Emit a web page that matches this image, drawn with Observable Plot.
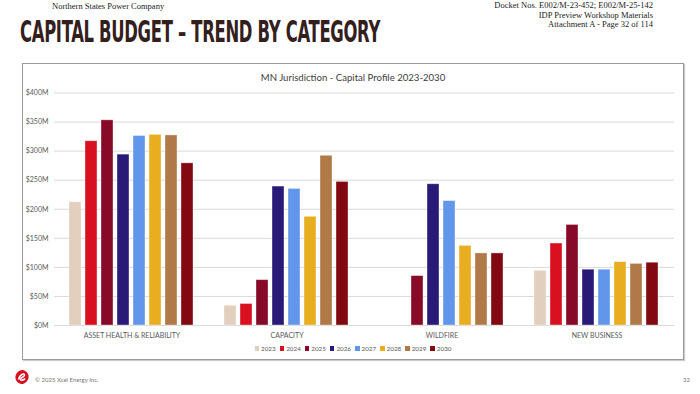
<!DOCTYPE html>
<html>
<head>
<meta charset="utf-8">
<script src="https://cdn.jsdelivr.net/npm/d3@7"></script>
<script src="https://cdn.jsdelivr.net/npm/@observablehq/plot@0.6"></script>
<style>
  html, body { margin:0; padding:0; background:#fff; }
  body { width:700px; height:394px; position:relative; overflow:hidden; font-family:Lato, "Open Sans", sans-serif; }
  .abs { position:absolute; }
  #company { left:52px; top:1px; font-family:"Liberation Serif", serif; font-size:8.5px; color:#222; }
  #docket { right:47px; top:1px; font-family:"Liberation Serif", serif; font-size:8.5px; color:#222; text-align:right; line-height:9.5px; }
  #title { left:20px; top:13px; font-family:"Liberation Sans Narrow", "DejaVu Sans Condensed", sans-serif; font-weight:bold; font-size:31px; color:#33201d; white-space:nowrap; transform-origin:0 0; letter-spacing:-0.5px; }
  #box { left:22px; top:63px; width:660px; height:295px; border:1px solid #9a9a9a; box-shadow:1px 1px 1px #ccc; }
  #ctitle { left:23px; top:72px; width:660px; text-align:center; font-family:Lato, sans-serif; font-size:9.6px; color:#404040; }
  #chart { left:23px; top:85px; }
  #legend { left:23px; top:345px; width:660px; display:flex; justify-content:center; font-size:6.3px; color:#595959; }
  #legend span.item { margin:0 2px; display:flex; align-items:center; }
  #legend span.sw { width:4.5px; height:4.5px; display:inline-block; margin-right:2px; }
  #copy { left:35px; top:376px; font-size:6px; color:#777; }
  #page { left:683px; top:376px; font-size:6px; color:#777; }
  #logo { left:14px; top:369px; }
</style>
</head>
<body>
<div id="company" class="abs">Northern States Power Company</div>
<div id="docket" class="abs">Docket Nos. E002/M-23-452; E002/M-25-142<br>IDP Preview Workshop Materials<br>Attachment A - Page 32 of 114</div>
<div id="title" class="abs">CAPITAL BUDGET – TREND BY CATEGORY</div>
<div id="box" class="abs"></div>
<div id="ctitle" class="abs">MN Jurisdiction - Capital Profile 2023-2030</div>
<div id="chart" class="abs"></div>
<div id="legend" class="abs"></div>
<svg id="logo" class="abs" width="16" height="16" viewBox="0 0 16 16">
  <ellipse cx="8" cy="8" rx="6.5" ry="7" fill="#d6101e" transform="rotate(25 8 8)"/>
  <path d="M4.5 10.5 C6 5, 10 4, 10.5 6 C11 8, 6 8.5, 6.5 10.5 C7 12, 10 11, 11 9.5" stroke="#fff" stroke-width="1.6" fill="none"/>
</svg>
<div id="copy" class="abs">© 2025 Xcel Energy Inc.</div>
<div id="page" class="abs">32</div>
<script>
const categories = ["ASSET HEALTH & RELIABILITY", "CAPACITY", "WILDFIRE", "NEW BUSINESS"];
const years = ["2023", "2024", "2025", "2026", "2027", "2028", "2029", "2030"];
const colors = ["#e2cfbd", "#d9101f", "#870a28", "#2a1a78", "#6296ea", "#e8ae20", "#b07a48", "#820812"];
// values in $M, by year, across categories
const v2023 = [212, 34, null, 94];
const v2024 = [317, 37, null, 141];
const v2025 = [353, 78, 85, 173];
const v2026 = [294, 239, 243, 96];
const v2027 = [326, 235, 214, 96];
const v2028 = [328, 187, 137, 109];
const v2029 = [327, 292, 124, 106];
const v2030 = [279, 247, 124, 108];
const yTicks = [0, 50, 100, 150, 200, 250, 300, 350, 400];

const series = [v2023, v2024, v2025, v2026, v2027, v2028, v2029, v2030];
const data = [];
categories.forEach((c, ci) => {
  years.forEach((y, yi) => {
    const v = series[yi][ci];
    if (v != null) data.push({cat: c, year: y, value: v});
  });
});

const chart = Plot.plot({
  width: 660,
  height: 260,
  marginLeft: 29,
  marginRight: 8,
  marginTop: 7.5,
  marginBottom: 20,
  style: {fontFamily: "Lato, sans-serif", fontSize: "7px", color: "#595959", background: "transparent"},
  fx: {domain: categories, padding: 0, label: null, axis: "bottom", tickSize: 0, tickPadding: 8},
  x: {domain: years, paddingInner: 0.22, paddingOuter: 0.88, axis: null},
  y: {domain: [0, 400], ticks: yTicks, tickFormat: d => `$${d}M`, label: null, tickSize: 0, tickPadding: 6},
  color: {domain: years, range: colors},
  marks: [
    Plot.gridY(yTicks, {stroke: "#d9d9d9", strokeOpacity: 1, strokeWidth: 1}),
    Plot.barY(data, {fx: "cat", x: "year", y: "value", fill: "year", stroke: "#ffffff", strokeOpacity: 0.45, strokeWidth: 0.8})
  ]
});
document.getElementById("chart").appendChild(chart);

const legend = document.getElementById("legend");
years.forEach((y, i) => {
  const item = document.createElement("span");
  item.className = "item";
  const sw = document.createElement("span");
  sw.className = "sw";
  sw.style.background = colors[i];
  item.appendChild(sw);
  item.appendChild(document.createTextNode(y));
  legend.appendChild(item);
});

// fit the condensed title to its width in the reference
const t = document.getElementById("title");
const w = t.getBoundingClientRect().width;
t.style.transform = `scaleX(${360 / w})`;
</script>
</body>
</html>
